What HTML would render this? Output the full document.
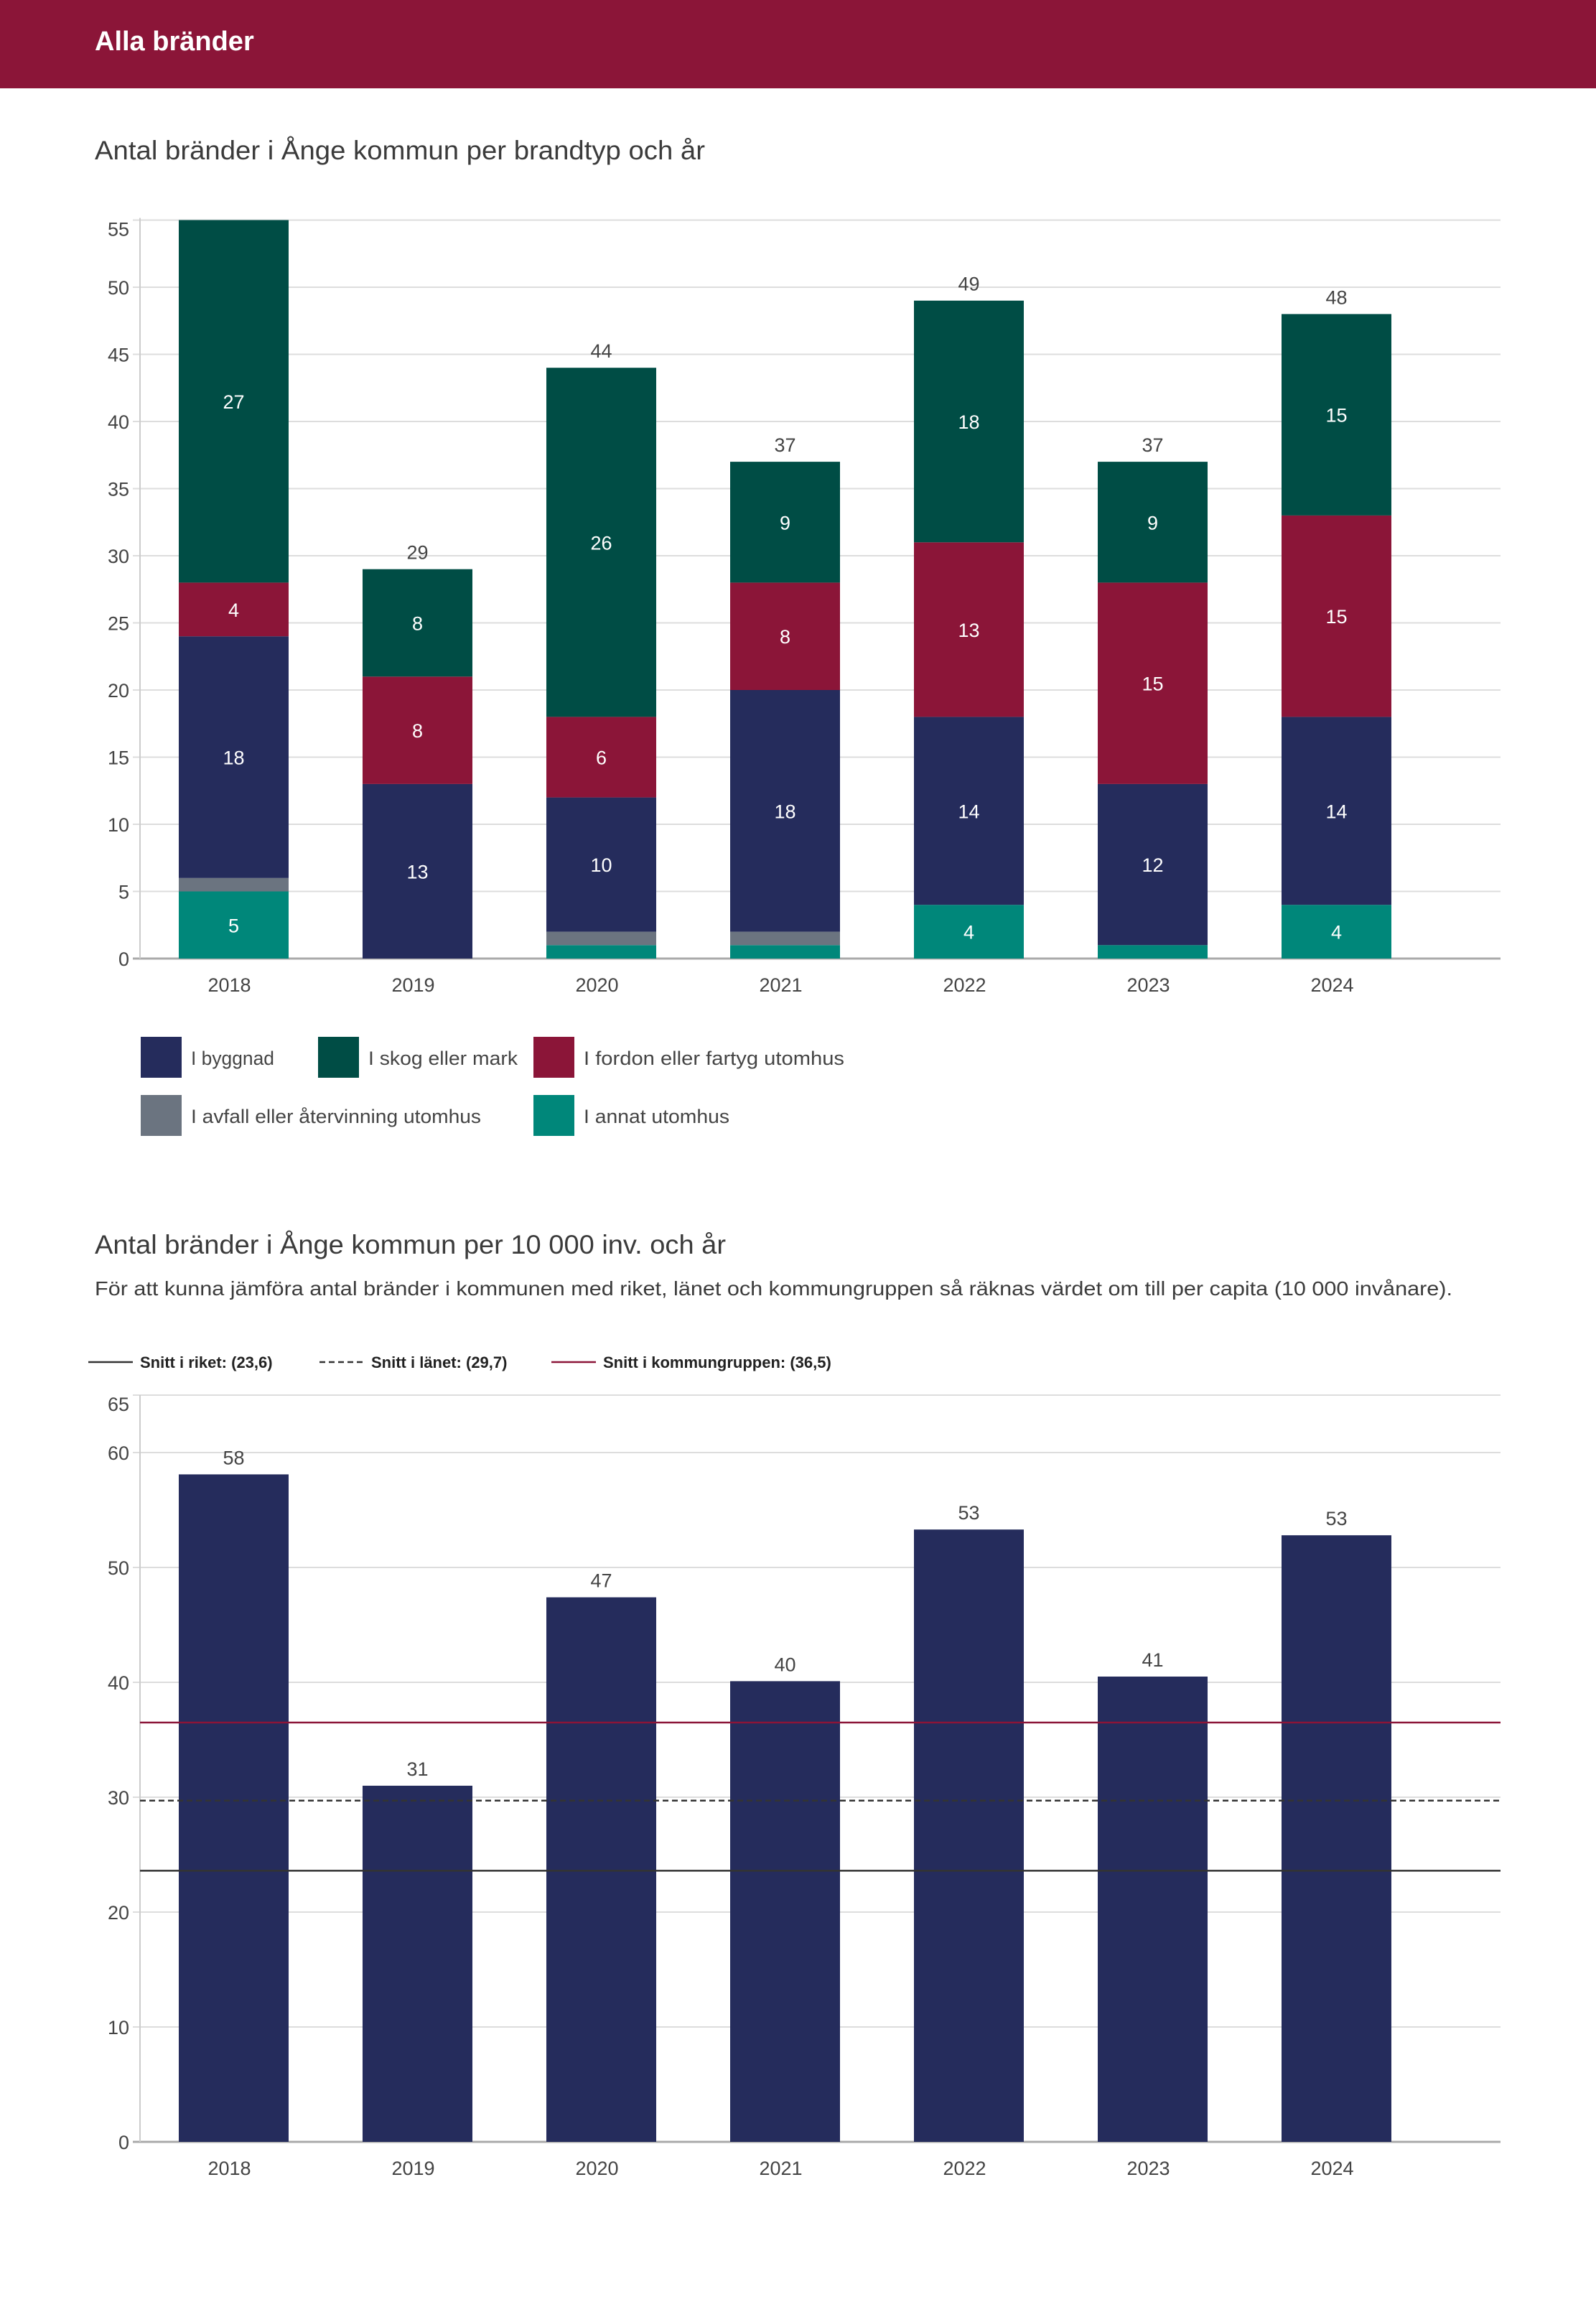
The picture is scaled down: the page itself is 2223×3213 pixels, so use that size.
<!DOCTYPE html>
<html><head><meta charset="utf-8"><style>
html,body{margin:0;padding:0;background:#fff}
svg{display:block;font-family:"Liberation Sans",sans-serif}
</style></head><body>
<svg id="page" width="2223" height="3213" viewBox="0 0 2223 3213" xmlns="http://www.w3.org/2000/svg">
<rect x="0" y="0" width="2223" height="123" fill="#8b1538"/>
<text x="132" y="70" fill="#fff" font-size="38" font-weight="bold">Alla bränder</text>
<text x="132" y="222" fill="#3b3b3b" font-size="37" textLength="850" lengthAdjust="spacingAndGlyphs">Antal bränder i Ånge kommun per brandtyp och år</text>
<g id="c1"></g>
<g id="legend1"></g>
<text x="132" y="1746" fill="#3b3b3b" font-size="37" textLength="879" lengthAdjust="spacingAndGlyphs">Antal bränder i Ånge kommun per 10 000 inv. och år</text>
<text x="132" y="1804" fill="#3b3b3b" font-size="28" textLength="1891" lengthAdjust="spacingAndGlyphs">För att kunna jämföra antal bränder i kommunen med riket, länet och kommungruppen så räknas värdet om till per capita (10 000 invånare).</text>
<g id="legend2"></g>
<g id="c2"></g>
</svg>
<script>
const years=["2018","2019","2020","2021","2022","2023","2024"];
const annat=[5,0,1,1,4,1,4];
const avfall=[1,0,1,1,0,0,0];
const byggnad=[18,13,10,18,14,12,14];
const fordon=[4,8,6,8,13,15,15];
const skog=[27,8,26,9,18,9,15];
const ticks1=[0,5,10,15,20,25,30,35,40,45,50,55];
const perCapita=[58.1,31,47.4,40.1,53.3,40.5,52.8];
const perCapitaLabels=["58","31","47","40","53","41","53"];
const ticks2=[0,10,20,30,40,50,60,65];
const refValues=[23.6,29.7,36.5];
const refLabels=["Snitt i riket: (23,6)","Snitt i länet: (29,7)","Snitt i kommungruppen: (36,5)"];

const NS="http://www.w3.org/2000/svg";
function mk(parent,tag,attrs,text){const e=document.createElementNS(NS,tag);for(const k in attrs)e.setAttribute(k,attrs[k]);if(text!==undefined)e.textContent=text;parent.appendChild(e);return e;}
const xC=i=>325.5+i*256, BW=153;
const LEFT=195, RIGHT=2090;

// chart 1
const c1=document.getElementById('c1');
const y1=v=>1335-v*18.7;
ticks1.forEach(t=>{
  const l=mk(c1,'line',{x1:LEFT-10,x2:RIGHT,y1:y1(t),y2:y1(t),stroke:t===0?'#aaa':'#ddd','stroke-width':t===0?3:2});
  
  
  const tx=mk(c1,'text',{x:180,y:y1(t)+(t===55?22:10),'text-anchor':'end','font-size':27,fill:'#444'},t);
  
  
});
mk(c1,'line',{x1:LEFT,x2:LEFT,y1:y1(55)-3,y2:y1(0),stroke:'#ccc','stroke-width':2});
const series=[[annat,'#00877a','annat'],[avfall,'#6b7480','avfall'],[byggnad,'#252c5c','byggnad'],[fordon,'#8b1538','fordon'],[skog,'#004d45','skog']];
years.forEach((yr,i)=>{
  let base=0;
  series.forEach(([arr,col,nm])=>{
    const v=arr[i]; if(!v)return;
    const r=mk(c1,'rect',{x:xC(i)-BW/2,y:y1(base+v),width:BW,height:y1(base)-y1(base+v),fill:col});
    
    
    if(v>=4){const t=mk(c1,'text',{x:xC(i),y:(y1(base)+y1(base+v))/2+10,'text-anchor':'middle','font-size':27,fill:'#fff'},v);
      
      }
    base+=v;
  });
  if(base<55){const t=mk(c1,'text',{x:xC(i),y:y1(base)-14,'text-anchor':'middle','font-size':27,fill:'#444'},base);
    
    }
  const xl=mk(c1,'text',{x:xC(i)-6,y:1381,'text-anchor':'middle','font-size':27,fill:'#444'},yr);
  
  
});
// legend 1
const lg=document.getElementById('legend1');
[[196,1444,'#252c5c','I byggnad',116],[443,1444,'#004d45','I skog eller mark',208],[743,1444,'#8b1538','I fordon eller fartyg utomhus',363],[196,1525,'#6b7480','I avfall eller återvinning utomhus',404],[743,1525,'#00877a','I annat utomhus',203]].forEach(([x,y,c,l,w])=>{
  const g=mk(lg,'g',{});
  
  
  mk(g,'rect',{x:x,y:y,width:57,height:57,fill:c});
  mk(g,'text',{x:x+70,y:y+39,'font-size':27,fill:'#444',textLength:w,lengthAdjust:'spacingAndGlyphs'},l);
});
// legend 2
const lg2=document.getElementById('legend2');
[[123,'#333','none'],[445,'#333','8 5'],[768,'#8b1538','none']].forEach(([x,c,d],k)=>{
  const g=mk(lg2,'g',{});
  
  
  mk(g,'line',{x1:x,x2:x+62,y1:1897,y2:1897,stroke:c,'stroke-width':2.5,'stroke-dasharray':d});
  mk(g,'text',{x:x+72,y:1905,'font-size':22,'font-weight':'bold',fill:'#222'},refLabels[k]);
});
// chart 2
const c2=document.getElementById('c2');
const y2=v=>2983-v*16;
ticks2.forEach(t=>{
  const l=mk(c2,'line',{x1:LEFT-10,x2:RIGHT,y1:y2(t),y2:y2(t),stroke:t===0?'#aaa':'#ddd','stroke-width':t===0?3:2});
  
  
  const tx=mk(c2,'text',{x:180,y:y2(t)+(t===65?22:10),'text-anchor':'end','font-size':27,fill:'#444'},t);
  
  
});
mk(c2,'line',{x1:LEFT,x2:LEFT,y1:y2(65),y2:y2(0),stroke:'#ccc','stroke-width':2});
years.forEach((yr,i)=>{
  const v=perCapita[i];
  const r=mk(c2,'rect',{x:xC(i)-BW/2,y:y2(v),width:BW,height:y2(0)-y2(v),fill:'#252c5c'});
  
  
  const t=mk(c2,'text',{x:xC(i),y:y2(v)-14,'text-anchor':'middle','font-size':27,fill:'#444'},perCapitaLabels[i]);
  
  
  const xl=mk(c2,'text',{x:xC(i)-6,y:3029,'text-anchor':'middle','font-size':27,fill:'#444'},yr);
  
  
});
[['#333','none'],['#333','8 5'],['#8b1538','none']].forEach(([c,d],k)=>{
  const l=mk(c2,'line',{x1:LEFT,x2:RIGHT,y1:y2(refValues[k]),y2:y2(refValues[k]),stroke:c,'stroke-width':2.5,'stroke-dasharray':d});
  
  
});
</script>
</body></html>
